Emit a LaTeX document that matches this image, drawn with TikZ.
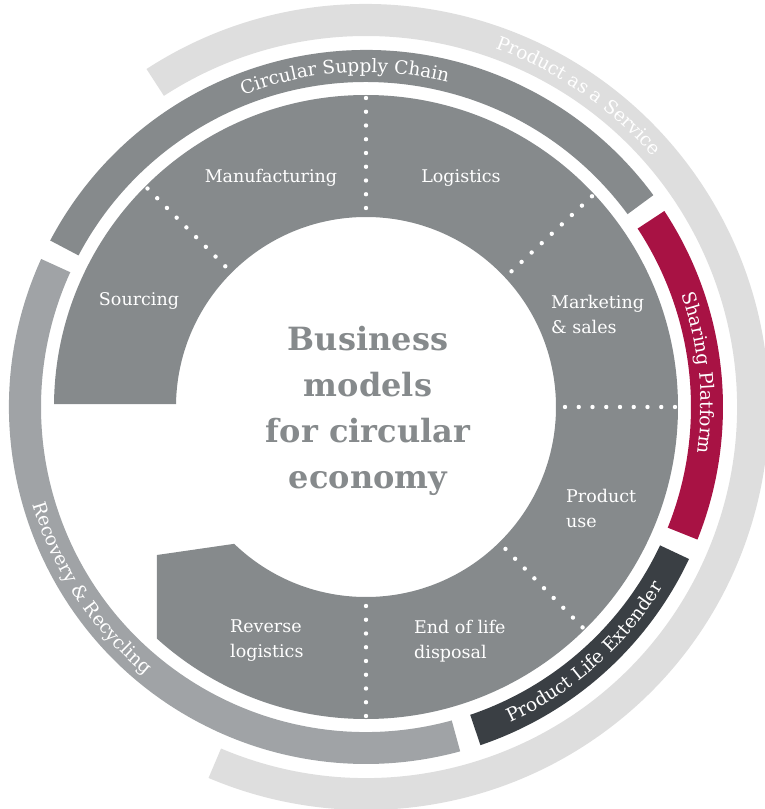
\documentclass[tikz,border=0pt]{standalone}
\usepackage{fontspec}
\setmainfont{DejaVu Serif}
\usepackage{tikz}
\usetikzlibrary{decorations.text}
\definecolor{ringgray}{RGB}{134,138,140}
\definecolor{paasgray}{RGB}{222,222,222}
\definecolor{recgray}{RGB}{160,163,166}
\definecolor{sharered}{RGB}{168,18,68}
\definecolor{extdark}{RGB}{58,63,68}
\newcommand{\arcfont}{\fontsize{18.5}{22}\selectfont}
% band piece: colour, from, to, inner radius, outer radius
\newcommand{\bandarc}[5]{%
  \fill[#1] (#2:#5) arc[start angle=#2, end angle=#3, radius=#5]
    -- (#3:#4) arc[start angle=#3, end angle=#2, radius=#4] -- cycle;}

\begin{document}
\begin{tikzpicture}[x=1pt, y=1pt,
    stagelabel/.style={text=white, inner sep=0pt, align=left,
      font=\fontsize{17.5}{25}\selectfont},
    titletext/.style={text=ringgray, align=center,
      font=\fontsize{32}{46}\selectfont\bfseries},
    dotline/.style={white, line width=4.4pt, line cap=round,
      dash pattern=on 0pt off 13.75pt},
    arctext/.style={decorate, decoration={text along path, text align=center,
      text color=white, text={|\arcfont|#1}}}]
    \useasboundingbox (-366,-402) rectangle (399,407);

    % outer bands
    \bandarc{paasgray}{123}{-113}{371pt}{403pt}
    \bandarc{ringgray}{152.2}{36.4}{325pt}{357pt}
    \bandarc{sharered}{33.3}{-21.8}{325pt}{357pt}
    \bandarc{extdark}{-25.2}{-71.3}{325pt}{357pt}
    \bandarc{recgray}{155.5}{285.3}{325pt}{357pt}

    % main ring with the gap on the left
    \begin{scope}
      \clip (0,3) -- (-420,3) -- (-420,420) -- (420,420) -- (420,-420)
        -- (-209,-420) -- (-209,-148) -- (-133,-137) -- (0,-118) -- cycle;
      \fill[ringgray, even odd rule] (0,0) circle[radius=312pt]
        (0,0) circle[radius=190pt];
    \end{scope}

    \foreach \a in {90,135,43,0,-45.5,270}
      \draw[dotline] (\a:199pt) -- (\a:309.5pt);

    \path[arctext={Product as a Service}]
      (85.65:381pt) arc[start angle=85.65, end angle=25.65, radius=381pt];
    \path[arctext={Circular Supply Chain}]
      (123.7:335pt) arc[start angle=123.7, end angle=63.7, radius=335pt];
    \path[arctext={Sharing Platform}]
      (35.85:335pt) arc[start angle=35.85, end angle=-24.15, radius=335pt];
    \path[arctext={Product Life Extender}]
      (-78.3:347pt) arc[start angle=-78.3, end angle=-18.3, radius=347pt];
    \path[arctext={Recovery {\&} Recycling}]
      (183.4:347pt) arc[start angle=183.4, end angle=243.4, radius=347pt];

    \node[stagelabel] (manuf) at (-95,229) {Manufacturing};
    \node[stagelabel] (logist) at (95,229) {Logistics};
    \node[stagelabel] (sourc) at (-227,106) {Sourcing};
    \node[stagelabel, anchor=west] (mkt) at (185,93) {Marketing\\\& sales};
    \node[stagelabel, anchor=west] (prouse) at (200,-101.5) {Product\\use};
    \node[stagelabel, anchor=west] (eol) at (48,-234.5) {End of life\\disposal};
    \node[stagelabel, anchor=west] (revlog) at (-136,-234) {Reverse\\logistics};

    \node[titletext] (title) at (2,-4) {Business\\models\\for circular\\economy};
  \end{tikzpicture}
\end{document}
